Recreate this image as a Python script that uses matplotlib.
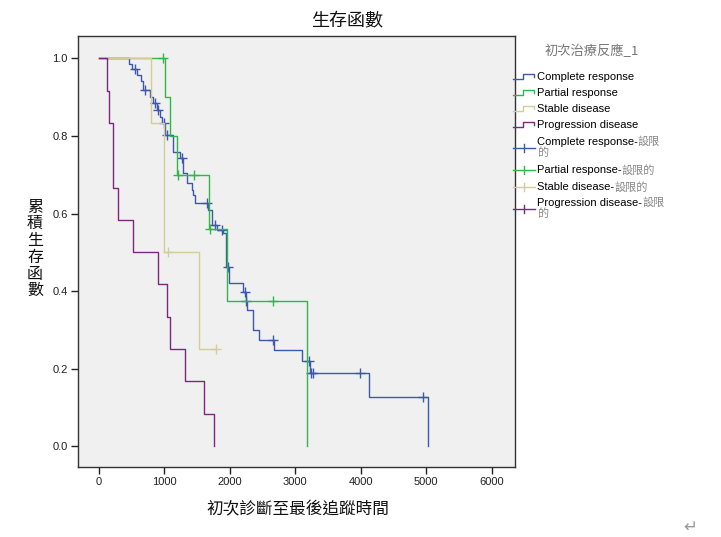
import numpy as np
import matplotlib.pyplot as plt
from matplotlib.lines import Line2D

plt.rcParams['font.family'] = ['Liberation Sans', 'Noto Sans CJK TC']

W, H = 721, 537

# Kaplan-Meier data (event times, survival after event, censored times)
groups = ['Complete response', 'Partial response', 'Stable disease', 'Progression disease']
colors = ['#3E58AC', '#2EB848', '#D3CE97', '#7C287D']

cr_times = [465, 511, 588, 649, 679, 786, 824, 893, 939, 969, 1015, 1137, 1244, 1290,
            1350, 1422, 1442, 1473, 1671, 1727, 1808, 1900, 1940, 1984, 2212, 2248,
            2264, 2362, 2454, 2672, 3101, 3228, 4132, 5033]
cr_surv = [0.985, 0.972, 0.957, 0.943, 0.919, 0.901, 0.884, 0.867, 0.849, 0.834, 0.802,
           0.759, 0.743, 0.705, 0.679, 0.661, 0.648, 0.626, 0.609, 0.570, 0.557, 0.550,
           0.463, 0.421, 0.398, 0.375, 0.351, 0.299, 0.274, 0.248, 0.220, 0.189, 0.126, 0.0]
cr_cens = [557, 710, 862, 908, 1000, 1045, 1270, 1651, 1778, 1880, 1976, 2236, 2256,
           2660, 3212, 3238, 3278, 3990, 4956]

pr_times = [1015, 1091, 1193, 1679, 1956, 3186]
pr_surv = [0.9, 0.8, 0.7, 0.56, 0.373, 0.0]
pr_cens = [984, 1209, 1462, 1701, 2668]

sd_times = [801, 1000, 1526]
sd_surv = [0.833, 0.5, 0.25]
sd_cens = [1061, 1793]

pd_times = [130, 160, 221, 298, 526, 908, 1045, 1091, 1320, 1610, 1763]
pd_surv = [0.917, 0.833, 0.667, 0.583, 0.5, 0.417, 0.333, 0.25, 0.167, 0.083, 0.0]
pd_cens = []

x_ticks = [0, 1000, 2000, 3000, 4000, 5000, 6000]
y_ticks = [0.0, 0.2, 0.4, 0.6, 0.8, 1.0]


def fx(px):
    return px / W


def fy(py):
    return 1 - py / H


fig = plt.figure(figsize=(W / 100, H / 100), dpi=100)
ax = fig.add_axes([fx(78), fy(467), (515 - 78) / W, (467 - 36) / H])
ax.set_facecolor('#F0F0F0')

series = [(cr_times, cr_surv, cr_cens), (pr_times, pr_surv, pr_cens),
          (sd_times, sd_surv, sd_cens), (pd_times, pd_surv, pd_cens)]

for (tm, sv, cs), c in zip(series, colors):
    t = np.r_[0, tm]
    s = np.r_[1.0, sv]
    if cs and max(cs) > t[-1]:
        t = np.r_[t, max(cs)]
        s = np.r_[s, s[-1]]
    ax.step(t, s, where='post', color=c, lw=1)
    if cs:
        idx = np.searchsorted(t, cs, side='right') - 1
        ax.plot(cs, s[idx], '+', color=c, ms=6.5, mew=1)

ax.set_xlim(-313, 6356)
ax.set_ylim(-0.054, 1.058)
ax.set_xticks(x_ticks)
ax.set_yticks(y_ticks)
ax.set_yticklabels([f'{v:.1f}' for v in y_ticks])
ax.tick_params(direction='out', length=5, width=1, labelsize=8, pad=2.5, colors='#222')
for sp in ax.spines.values():
    sp.set_color('#333')
    sp.set_linewidth(1)

fig.text(fx(347), fy(20), '生存函數', ha='center', va='center', fontsize=13,
         fontweight='medium', family='Noto Sans CJK TC', color='#111')
fig.text(fx(298), fy(510), '初次診斷至最後追蹤時間', ha='center', va='center',
         fontsize=12, family='Noto Sans CJK TC', color='#111')
fig.text(fx(35), fy(249), '累\n積\n生\n存\n函\n數', ha='center', va='center',
         fontsize=11.5, linespacing=0.98, family='Noto Sans CJK TC', color='#111')

# legend
fig.text(fx(545), fy(51), '初次治療反應_1', ha='left', va='center', fontsize=9.5,
         color='#777', family='Noto Sans CJK TC')

r = fig.canvas.get_renderer()
step_y = [77, 93, 109, 125]
for name, c, y in zip(groups, colors, step_y):
    fig.add_artist(Line2D([fx(513), fx(523), fx(523), fx(534), fx(534)],
                          [fy(y + 2), fy(y + 2), fy(y - 3), fy(y - 3), fy(y)],
                          color=c, lw=1))
    fig.text(fx(537), fy(y), name, ha='left', va='center', fontsize=8)

cens_y = [142, 170, 187, 203]
wrap = [True, False, False, True]
for name, c, y, wr in zip(groups, colors, cens_y, wrap):
    yy = y + 6 if wr else y
    fig.add_artist(Line2D([fx(513), fx(535)], [fy(yy), fy(yy)], color=c, lw=1))
    fig.add_artist(Line2D([fx(524), fx(524)], [fy(yy - 4), fy(yy + 4)], color=c, lw=1))
    t1 = fig.text(fx(537), fy(y), name + '-', ha='left', va='center', fontsize=8)
    w = t1.get_window_extent(r).width
    if wr:
        fig.text(fx(537 + w), fy(y), '設限', ha='left', va='center', fontsize=8,
                 color='#888', family='Noto Sans CJK TC')
        fig.text(fx(537), fy(y + 11), '的', ha='left', va='center', fontsize=8,
                 color='#888', family='Noto Sans CJK TC')
    else:
        fig.text(fx(537 + w), fy(y), '設限的', ha='left', va='center', fontsize=8,
                 color='#888', family='Noto Sans CJK TC')

fig.text(fx(690), fy(527), '↵', ha='center', va='center', fontsize=12,
         color='#999', family='DejaVu Sans')

fig.savefig('out.png', dpi=100)
